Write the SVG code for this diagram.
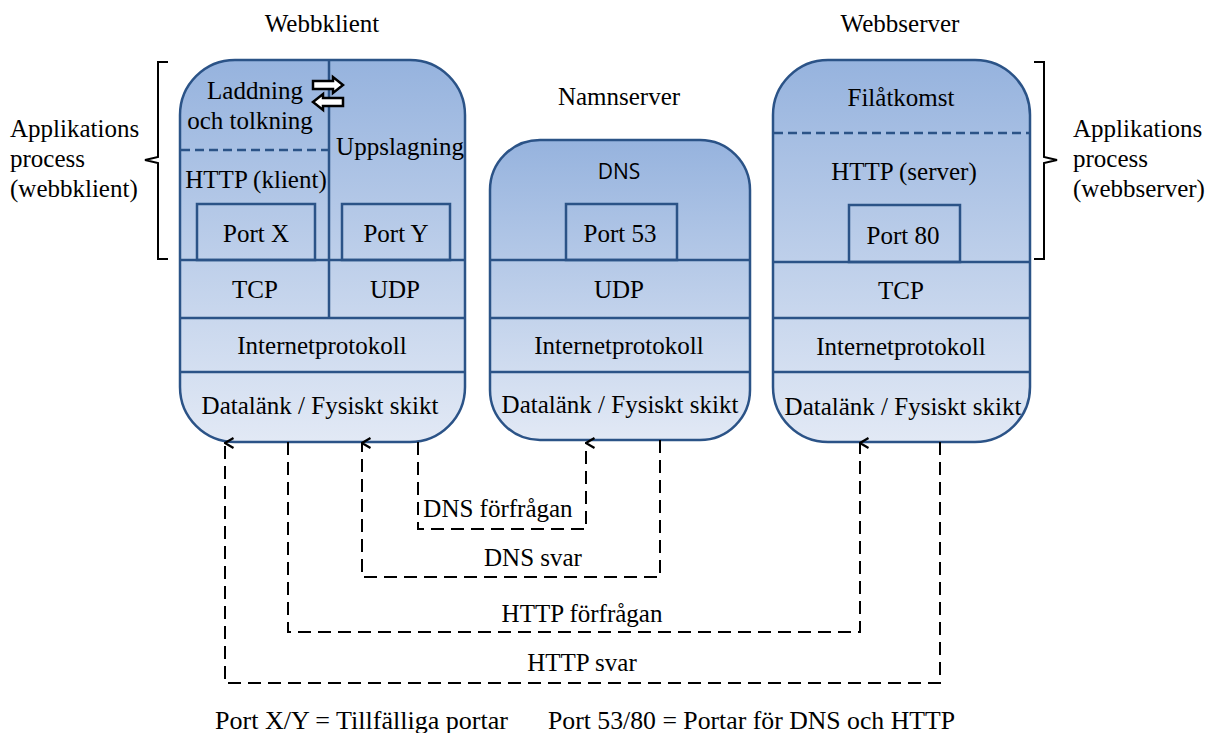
<svg xmlns="http://www.w3.org/2000/svg" width="1220" height="733" viewBox="0 0 1220 733">
<defs>
<linearGradient id="g" x1="0" y1="0" x2="0" y2="1">
<stop offset="0" stop-color="#96b3de"/>
<stop offset="1" stop-color="#e2e9f5"/>
</linearGradient>
<marker id="ah" markerWidth="14" markerHeight="14" refX="7" refY="1.5" orient="auto-start-reverse" markerUnits="userSpaceOnUse" viewBox="0 0 14 14">
<path d="M2,10 L7,1.5 L12,10" fill="none" stroke="#000" stroke-width="2.2"/>
</marker>
<style>
text{font-family:"Liberation Serif","Times New Roman",serif;font-size:25px;fill:#000;text-anchor:middle}
.l{text-anchor:start}
.s{font-family:"Open Sans","Liberation Sans",Arial,sans-serif;font-size:21px}
.box{fill:url(#g);stroke:#2b5387;stroke-width:2.5}
.ln{stroke:#2b5387;stroke-width:2.5;fill:none}
.dl{stroke:#2b5387;stroke-width:2.5;stroke-dasharray:9 5;fill:none}
.c{stroke:#000;stroke-width:2;stroke-dasharray:13 7;fill:none}
.br{stroke:#000;stroke-width:2;fill:none}
</style>
</defs>
<rect width="1220" height="733" fill="#fff"/>
<text x="322" y="32">Webbklient</text>
<text x="619" y="105">Namnserver</text>
<text x="900" y="32">Webbserver</text>

<g id="left-brace">
<path class="br" d="M168,62 L158,62 L158,157 L145,160 L158,163 L158,259 L168,259"/>
<text class="l" x="10" y="137">Applikations</text>
<text class="l" x="10" y="167">process</text>
<text class="l" x="10" y="197">(webbklient)</text>
</g>
<g id="right-brace">
<path class="br" d="M1034,62 L1044,62 L1044,157 L1057,160 L1044,163 L1044,259 L1034,259"/>
<text class="l" x="1073" y="137">Applikations</text>
<text class="l" x="1073" y="167">process</text>
<text class="l" x="1073" y="197">(webbserver)</text>
</g>

<g id="webbklient">
<rect class="box" x="180" y="60" width="285" height="382" rx="55"/>
<line class="ln" x1="329" y1="60" x2="329" y2="318"/>
<line class="dl" x1="181" y1="150" x2="329" y2="150"/>
<line class="ln" x1="180" y1="260" x2="465" y2="260"/>
<line class="ln" x1="180" y1="318" x2="465" y2="318"/>
<line class="ln" x1="180" y1="372" x2="465" y2="372"/>
<rect class="ln" x="197" y="204" width="118" height="56"/>
<rect class="ln" x="342" y="204" width="108" height="56"/>
<path d="M313,81 L333,81 L333,77 L343,85 L333,93 L333,89 L313,89 Z" fill="#fff" stroke="#000" stroke-width="2.5"/>
<path d="M343,98 L323,98 L323,94 L313,102 L323,110 L323,106 L343,106 Z" fill="#fff" stroke="#000" stroke-width="2.5"/>
<text x="255" y="99">Laddning</text>
<text x="250" y="129">och tolkning</text>
<text x="400" y="155">Uppslagning</text>
<text x="256" y="188">HTTP (klient)</text>
<text x="256" y="242">Port X</text>
<text x="396" y="242">Port Y</text>
<text x="255" y="298">TCP</text>
<text x="395" y="298">UDP</text>
<text x="322" y="354">Internetprotokoll</text>
<text x="320" y="414">Datalänk / Fysiskt skikt</text>
</g>

<g id="namnserver">
<rect class="box" x="490" y="140" width="260" height="300" rx="50"/>
<line class="ln" x1="490" y1="260" x2="750" y2="260"/>
<line class="ln" x1="490" y1="318" x2="750" y2="318"/>
<line class="ln" x1="490" y1="372" x2="750" y2="372"/>
<rect class="ln" x="566" y="204" width="111" height="56"/>
<text class="s" x="619" y="179">DNS</text>
<text x="620" y="242">Port 53</text>
<text x="619" y="298">UDP</text>
<text x="619" y="354">Internetprotokoll</text>
<text x="620" y="413">Datalänk / Fysiskt skikt</text>
</g>

<g id="webbserver">
<rect class="box" x="773" y="60" width="257" height="382" rx="55"/>
<line class="dl" x1="774" y1="133" x2="1029" y2="133"/>
<line class="ln" x1="773" y1="262" x2="1030" y2="262"/>
<line class="ln" x1="773" y1="318" x2="1030" y2="318"/>
<line class="ln" x1="773" y1="372" x2="1030" y2="372"/>
<rect class="ln" x="849" y="205" width="111" height="57"/>
<text x="901" y="106">Filåtkomst</text>
<text x="904" y="180">HTTP (server)</text>
<text x="903" y="244">Port 80</text>
<text x="901" y="299">TCP</text>
<text x="901" y="355">Internetprotokoll</text>
<text x="903" y="415">Datalänk / Fysiskt skikt</text>
</g>

<g id="connectors">
<path class="c" d="M418,442 L418,529 L586,529 L586,443" marker-end="url(#ah)"/>
<path class="c" d="M660,440 L660,577 L362,577 L362,443" marker-end="url(#ah)"/>
<path class="c" d="M288,442 L288,632 L860,632 L860,443" marker-end="url(#ah)"/>
<path class="c" d="M940,442 L940,683 L225,683 L225,443" marker-end="url(#ah)"/>
<text x="498" y="517">DNS förfrågan</text>
<text x="533" y="566">DNS svar</text>
<text x="582" y="622">HTTP förfrågan</text>
<text x="582" y="671">HTTP svar</text>
</g>

<text class="l" x="215" y="729" textLength="293" lengthAdjust="spacingAndGlyphs">Port X/Y = Tillfälliga portar</text>
<text class="l" x="548" y="729" textLength="407" lengthAdjust="spacingAndGlyphs">Port 53/80 = Portar för DNS och HTTP</text>
</svg>
